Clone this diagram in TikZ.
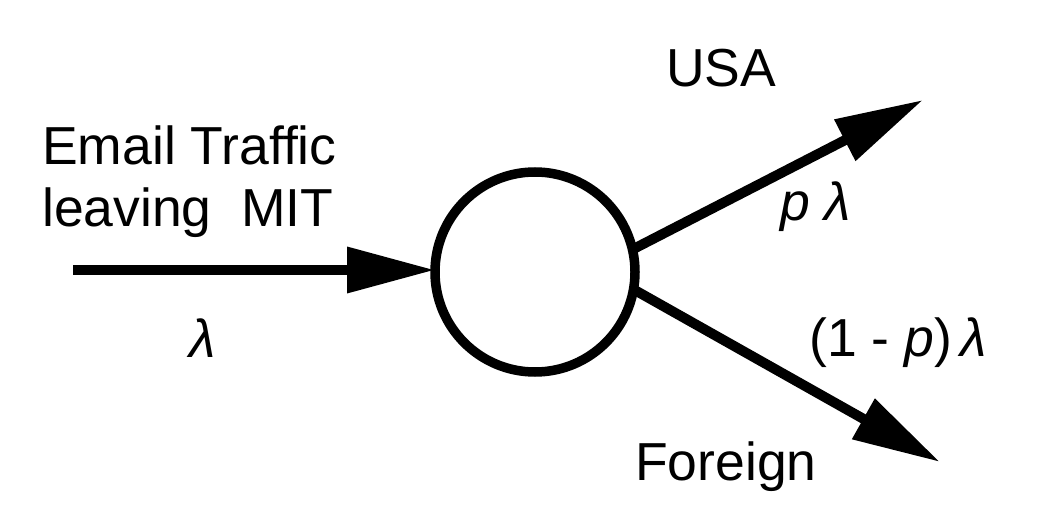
\documentclass[tikz,border=0pt]{standalone}
\usepackage{fontspec}
\setmainfont{Liberation Sans}
\usetikzlibrary{arrows.meta}
\begin{document}
\begin{tikzpicture}[x=1pt,y=-1pt,
  lbl/.style={anchor=base west,inner sep=0pt,font=\fontsize{53.5}{62}\selectfont},
  flow/.style={line width=10pt,-{Triangle[length=88pt,width=44pt]}},
  station/.style={circle,draw,line width=9.5pt,minimum size=200pt,inner sep=0pt,outer sep=0pt}]
\useasboundingbox (0,0) rectangle (1046,518);
\node[station] (c) at (535,272) {};
\coordinate (in) at (73,270);
\coordinate (usa) at (923,100);
\coordinate (for) at (940,462);
\draw[flow] (in) -- (c.west |- in);
\draw[flow] (c.13.5) -- (usa);
\draw[flow] (c.-10) -- (for);
\node[lbl] (t1) at (42,165) {Email Traffic};
\node[lbl] (t2) at (42,227) {leaving\ \ MIT};
\node[lbl] (l1) at (189,357) {\itshape λ};
\node[lbl] (t3) at (666,87) {USA};
\node[lbl] (l2) at (780,221) {\itshape p\/ λ};
\node[lbl] (l3) at (809,356) {(1 - \textit{p})\,\textit{λ}};
\node[lbl] (t4) at (635,480) {Foreign};
\end{tikzpicture}
\end{document}
